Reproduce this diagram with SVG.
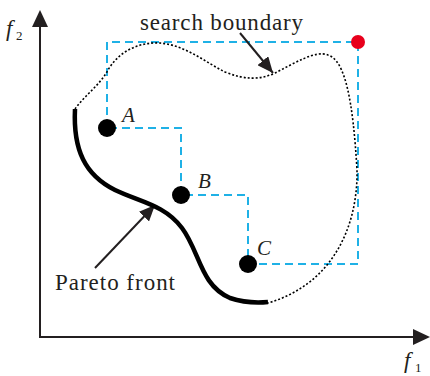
<svg xmlns="http://www.w3.org/2000/svg" width="430" height="376" viewBox="0 0 430 376">
<style>
.t{font-family:"Liberation Serif","Times New Roman",serif;fill:#231f20}
.it{font-style:italic}
.axis{stroke:#231f20;stroke-width:2;fill:none}
.dash{stroke:#1fb1e6;stroke-width:2;stroke-dasharray:8 5;fill:none}
.dot{fill:#000}
</style>
<defs>
<marker id="ah2" markerWidth="16" markerHeight="14" refX="16" refY="7" orient="auto" markerUnits="userSpaceOnUse" viewBox="0 0 16 14">
<path d="M0,0 L16,7 L0,14 Z" fill="#231f20"/>
</marker>
</defs>
<rect width="430" height="376" fill="#fff"/>
<g id="axes">
<path class="axis" d="M40,337 L40,26"/>
<path d="M32,27 L40,10 L48,27 Z" fill="#231f20"/>
<path class="axis" d="M39,337 L414,337"/>
<path d="M413,329 L430,337 L413,345 Z" fill="#231f20"/>
<text class="t it" x="6" y="36" font-size="23">f</text>
<text class="t" x="16" y="40" font-size="13">2</text>
<text class="t it" x="404" y="368" font-size="23">f</text>
<text class="t" x="415" y="372" font-size="13">1</text>
</g>
<g id="connectors">
<path class="dash" d="M107,128 L107,42 L358,42 L358,264 L248,264 L248,195 L181,195 L181,128 L107,128"/>
<path d="M75,109 C85,95 100,85 108,70 C120,50 140,42 160,43 C185,45 205,62 225,72 C245,80 260,80 275,73 C295,63 315,50 328,55 C345,60 353,100 357,170 C358,230 330,285 268,303" fill="none" stroke="#000" stroke-width="1.6" stroke-dasharray="2 2"/>
<path d="M240,33 L273,73" fill="none" stroke="#231f20" stroke-width="2" marker-end="url(#ah2)"/>
<path d="M95,268 L155,205" fill="none" stroke="#231f20" stroke-width="2" marker-end="url(#ah2)"/>
</g>
<g id="pareto">
<path d="M75,109 C73,150 85,175 115,190 C140,202 165,205 182,228 C200,252 200,285 230,298 C245,303 258,303 268,302" fill="none" stroke="#000" stroke-width="4.5"/>
</g>
<g id="nodeA"><circle class="dot" cx="107" cy="128" r="9"/><text class="t it" x="122" y="122" font-size="21">A</text></g>
<g id="nodeB"><circle class="dot" cx="181" cy="195" r="9"/><text class="t it" x="198" y="188" font-size="21">B</text></g>
<g id="nodeC"><circle class="dot" cx="248" cy="264" r="9"/><text class="t it" x="257" y="255" font-size="21">C</text></g>
<g id="corner"><circle cx="358" cy="42" r="7" fill="#e8001c"/></g>
<g id="labels">
<text class="t" x="140" y="30" font-size="23" textLength="163" lengthAdjust="spacing">search boundary</text>
<text class="t" x="55" y="290" font-size="23" textLength="120" lengthAdjust="spacing">Pareto front</text>
</g>
</svg>
